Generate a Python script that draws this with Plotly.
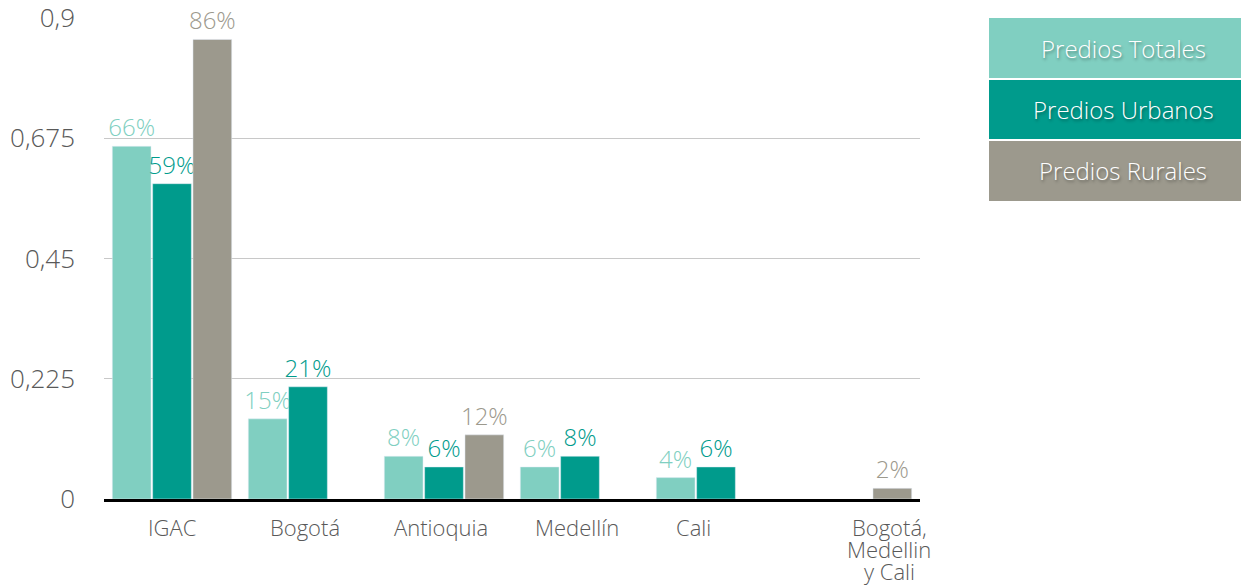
import plotly.graph_objects as go

categories = ["IGAC", "Bogotá", "Antioquia", "Medellín", "Cali", "Bogotá, Medellin y Cali"]
category_lines = [["IGAC"], ["Bogotá"], ["Antioquia"], ["Medellín"], ["Cali"], ["Bogotá,", "Medellin", "y Cali"]]
totales = [0.66, 0.15, 0.08, 0.06, 0.04, None]
urbanos = [0.59, 0.21, 0.06, 0.08, 0.06, None]
rurales = [0.86, None, 0.12, None, None, 0.02]
series_names = ["Predios Totales", "Predios Urbanos", "Predios Rurales"]
colors = ["#80CFC1", "#009B8C", "#9C998D"]
tick_vals = [0, 0.225, 0.45, 0.675, 0.9]
tick_text = ["0", "0,225", "0,45", "0,675", "0,9"]

FONT = "Open Sans"
# the page body has an 8px margin; size the figure so the plot lands at the same page pixels
OFF = 8
W, H = 1249 - OFF, 586 - OFF
fig = go.Figure()
for name, vals, col in zip(series_names, [totales, urbanos, rurales], colors):
    fig.add_trace(go.Bar(
        x=categories, y=vals, name=name, marker_color=col,
        texttemplate="%{y:.0%}", textposition="outside",
        textfont=dict(family=FONT, size=24, color=col, weight=300),
        cliponaxis=False, constraintext="none", showlegend=False,
    ))

plot_top, plot_bot, plot_l, plot_r = 18, 499, 104, 920
fig.update_layout(
    width=W, height=H, autosize=False,
    margin=dict(l=plot_l - OFF, r=1249 - plot_r, t=plot_top - OFF, b=586 - plot_bot),
    plot_bgcolor="white", paper_bgcolor="white",
    barmode="group", bargap=0.11, bargroupgap=0.04,
)
fig.update_yaxes(
    range=[0, 0.9], tickvals=tick_vals, ticktext=tick_text,
    showgrid=True, gridcolor="#C8C8C8", gridwidth=1,
    zeroline=False, showline=False, automargin=False,
    ticklabeloverflow="allow",
    tickfont=dict(family=FONT, size=26, color="#595959", weight=300),
    ticklabelstandoff=28,
)
fig.update_xaxes(
    type="category", categoryorder="array", categoryarray=categories,
    range=[-0.5, len(categories) - 0.5],
    showline=True, linecolor="black", linewidth=3, automargin=False,
    showticklabels=False,
)

# category labels (tight line spacing), horizontal nudges as in the original
label_xshift = [0, -3, -3, -3, -23, 37]
for cat, lines, dx in zip(categories, category_lines, label_xshift):
    for i, line in enumerate(lines):
        fig.add_annotation(xref="x", yref="y", x=cat, y=0, text=line,
                           showarrow=False, xanchor="center", yanchor="middle",
                           xshift=dx, yshift=-(28 + 22 * i),
                           font=dict(family=FONT, size=22, color="#595959", weight=300))

def px_x(x):
    return (x - plot_l) / (plot_r - plot_l)
def px_y(y):
    return (plot_bot - y) / (plot_bot - plot_top)

rows = [(18, 78), (80, 139), (141, 201)]
for (y0, y1), name, col in zip(rows, series_names, colors):
    fig.add_shape(type="rect", xref="paper", yref="paper",
                  x0=px_x(989), x1=px_x(1249), y0=px_y(y1), y1=px_y(y0),
                  fillcolor=col, line=dict(width=0), layer="above")
    fig.add_annotation(xref="paper", yref="paper",
                       x=px_x(1123), y=px_y((y0 + y1) / 2),
                       text=name, showarrow=False, xanchor="center", yanchor="middle",
                       font=dict(family=FONT, size=24, color="white", weight=300,
                                 shadow="1px 2px 3px rgba(0,0,0,0.35)"))

fig.write_html("out.html")
